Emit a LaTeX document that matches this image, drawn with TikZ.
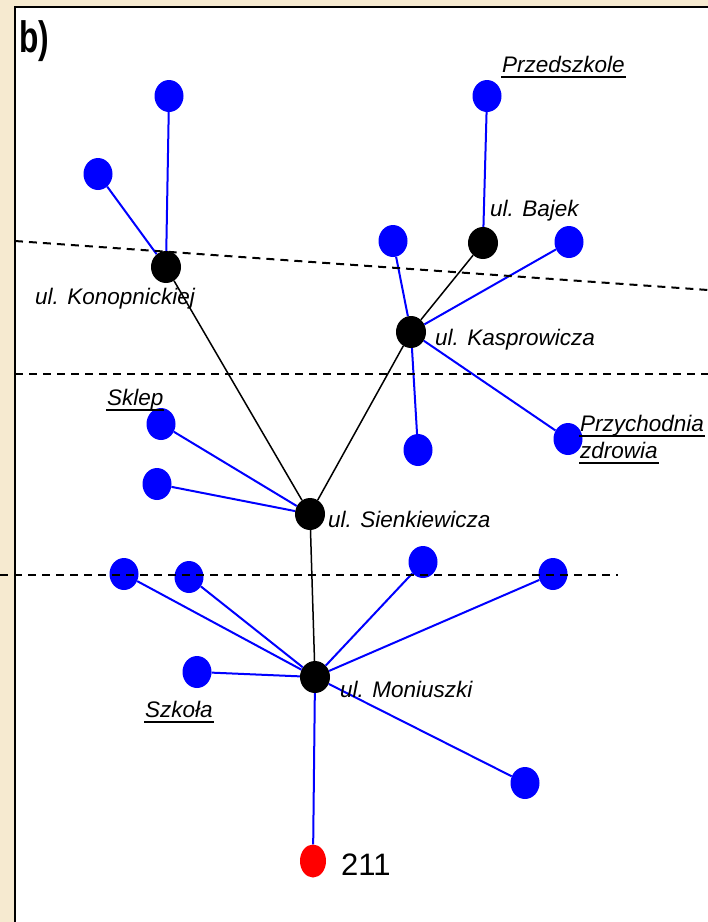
\documentclass[tikz,border=0pt]{standalone}
\usepackage{fontspec}
\setmainfont{Liberation Sans}
\usetikzlibrary{shapes.geometric, positioning}
\definecolor{paper}{RGB}{246,234,208}
\newcommand{\signline}[1]{\setbox0\hbox{#1}\leavevmode\rlap{\hspace{-1pt}\rule[-6pt]{\dimexpr\wd0+2pt\relax}{1.8pt}}\box0}

\begin{document}
\begin{tikzpicture}[x=1pt, y=-1pt,
    leaf/.style={ellipse, fill=blue, minimum width=29pt, minimum height=32pt, inner sep=0pt},
    hub/.style={leaf, fill=black, minimum width=30pt},
    spot/.style={leaf, fill=red, minimum width=26pt, minimum height=33pt},
    stem/.style={blue, line width=2pt},
    trunk/.style={black, line width=1.5pt},
    street/.style={font=\fontsize{22.5}{27}\selectfont\itshape, inner sep=0pt, anchor=base west},
    zone/.style={dash pattern=on 8pt off 6pt, line width=2pt}]
        \useasboundingbox (0,0) rectangle (708,922);
        % Frame
        \fill[paper] (0,0) rectangle (708,922);
        \filldraw[fill=white, draw=black, line width=2.2pt] (15,7) rectangle (730,940);
        \node[font=\fontsize{44}{48}\selectfont, inner sep=0pt, anchor=base west] (tag) at (19,52) {\scalebox{0.72}[1]{\bfseries b)}};
        % Hubs
        \node[hub] (konop) at (166,267) {};
        \node[hub] (bajek) at (483,243) {};
        \node[hub] (kaspr) at (411,332) {};
        \node[hub] (sienk) at (310,514) {};
        \node[hub] (moniu) at (315,677) {};
        % Leaves
        \node[leaf] (k1) at (169,96) {};
        \node[leaf] (k2) at (98,174) {};
        \node[leaf] (przedszkole) at (487,96) {};
        \node[leaf] (a1) at (393,241) {};
        \node[leaf] (a2) at (569,242) {};
        \node[leaf] (a3) at (418,450) {};
        \node[leaf] (przychodnia) at (568,439) {};
        \node[leaf] (sklep) at (161,424) {};
        \node[leaf] (s1) at (157,484) {};
        \node[leaf] (m1) at (124,574) {};
        \node[leaf] (m2) at (189,577) {};
        \node[leaf] (m3) at (423,562) {};
        \node[leaf] (m4) at (553,574) {};
        \node[leaf] (szkola) at (197,672) {};
        \node[leaf] (m5) at (525,783) {};
        \node[spot] (source) at (313,861) {};
        % Main lines
        \draw[trunk] (konop) -- (sienk);
        \draw[trunk] (kaspr) -- (sienk);
        \draw[trunk] (bajek) -- (kaspr);
        \draw[trunk] (sienk) -- (moniu);
        % Service lines
        \draw[stem] (k1) -- (konop);
        \draw[stem] (k2) -- (konop);
        \draw[stem] (przedszkole) -- (bajek);
        \draw[stem] (a1) -- (kaspr);
        \draw[stem] (a2) -- (kaspr);
        \draw[stem] (a3) -- (kaspr);
        \draw[stem] (przychodnia) -- (kaspr);
        \draw[stem] (sklep) -- (sienk);
        \draw[stem] (s1) -- (sienk);
        \draw[stem] (m1) -- (moniu);
        \draw[stem] (m2) -- (moniu);
        \draw[stem] (m3) -- (moniu);
        \draw[stem] (m4) -- (moniu);
        \draw[stem] (szkola) -- (moniu);
        \draw[stem] (m5) -- (moniu);
        \draw[stem] (source) -- (moniu);
        % Labels
        \node[street] (lkonop) at (35,304) {ul. Konopnickiej};
        \node[street] (lbajek) at (490,216) {ul. Bajek};
        \node[street] (lkaspr) at (435,345) {ul. Kasprowicza};
        \node[street] (lsienk) at (328,527) {ul. Sienkiewicza};
        \node[street] (lmoniu) at (340,697) {ul. Moniuszki};
        \node[street] (lsklep) at (107,405) {\signline{Sklep}};
        \node[street, align=left] (lprzych) at (580,458) {\signline{Przychodnia}\\\signline{zdrowia}};
        \node[street] (lszkola) at (145,717) {\signline{Szkoła}};
        \node[street] (lprzed) at (502,72) {\signline{Przedszkole}};
        \node[font=\fontsize{31}{34}\selectfont, inner sep=0pt, anchor=base west] (lsource) at (341,875) {211};
        % Zones
        \draw[zone] (15,241) -- (708,290);
        \draw[zone] (15,374) -- (708,374);
        \draw[zone] (0,575) -- (618,575);
\end{tikzpicture}
\end{document}
